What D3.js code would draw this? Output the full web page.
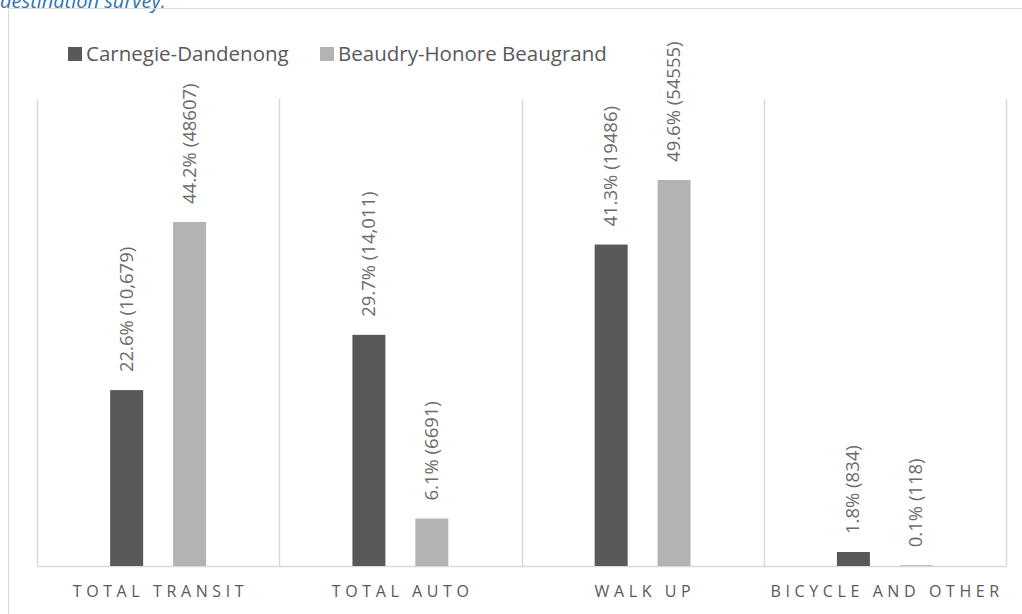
<!DOCTYPE html>
<html>
<head>
<meta charset="utf-8">
<script src="https://cdnjs.cloudflare.com/ajax/libs/d3/7.8.5/d3.min.js"></script>
<style>
body { margin:0; background:white; }
svg { display:block; font-family:"Open Sans", "Noto Sans", sans-serif; }
</style>
</head>
<body>
<svg id="chart"></svg>
<script>
//data
var categories = ["TOTAL TRANSIT","TOTAL AUTO","WALK UP","BICYCLE AND OTHER"];
var seriesNames = ["Carnegie-Dandenong","Beaudry-Honore Beaugrand"];
var carnegieValues = [22.6, 29.7, 41.3, 1.8];
var carnegieLabels = ["22.6% (10,679)","29.7% (14,011)","41.3% (19486)","1.8% (834)"];
var beaudryValues = [44.2, 6.1, 49.6, 0.1];
var beaudryLabels = ["44.2% (48607)","6.1% (6691)","49.6% (54555)","0.1% (118)"];
var colors = ["#595959","#b3b3b3"];

var initGraph = function(target)
{
    var screen = {width:1022, height:614};
    var margins = {top:99, bottom:48, left:37, right:16};
    var graph = {
        width:screen.width-margins.left-margins.right,
        height:screen.height-margins.top-margins.bottom
    };

    var svg = d3.select(target)
        .attr("width",screen.width)
        .attr("height",screen.height);

    //cut off title text and outer frame
    svg.append("text")
        .text("destination survey.")
        .attr("x",0)
        .attr("y",8)
        .attr("font-style","italic")
        .attr("font-size",20)
        .attr("fill","#2e75b6");

    svg.append("path")
        .attr("d","M8.5,614 L8.5,8.5 L1022,8.5")
        .attr("fill","none")
        .attr("stroke","#d9d9d9")
        .attr("stroke-width",1);

    var series = [
        {name:seriesNames[0], values:carnegieValues, labels:carnegieLabels, color:colors[0]},
        {name:seriesNames[1], values:beaudryValues, labels:beaudryLabels, color:colors[1]}
    ];

    var xScale = d3.scaleBand()
        .domain(categories)
        .range([0,graph.width]);

    var subScale = d3.scaleBand()
        .domain(seriesNames)
        .range([xScale.bandwidth()/2-64.5, xScale.bandwidth()/2+64.5])
        .paddingInner(0.95)
        .paddingOuter(0.5);

    var yScale = d3.scaleLinear()
        .domain([0,60])
        .range([graph.height,0]);

    var g = svg.append("g")
        .attr("transform","translate("+margins.left+","+margins.top+")");

    //vertical separators between categories
    g.selectAll("line.sep")
        .data(d3.range(categories.length+1))
        .enter()
        .append("line")
        .classed("sep",true)
        .attr("x1",function(i){ return Math.round(i*xScale.step())+0.5; })
        .attr("x2",function(i){ return Math.round(i*xScale.step())+0.5; })
        .attr("y1",0)
        .attr("y2",graph.height)
        .attr("stroke","#d9d9d9")
        .attr("stroke-width",1.5);

    //bottom axis
    var xAxis = d3.axisBottom(xScale).tickSize(0).tickPadding(20);
    var axis = g.append("g")
        .attr("transform","translate(0,"+graph.height+")")
        .call(xAxis);
    axis.select(".domain")
        .attr("stroke","#d9d9d9")
        .attr("stroke-width",1.5);
    axis.selectAll("text")
        .attr("font-family","'Open Sans', sans-serif")
        .attr("font-size",16)
        .attr("letter-spacing","4.6px")
        .attr("dx","2.3px")
        .attr("fill","#595959");

    //bars
    var groups = g.selectAll("g.series")
        .data(series)
        .enter()
        .append("g")
        .classed("series",true);

    var barWidth = 33;

    groups.selectAll("rect")
        .data(function(s){
            return s.values.map(function(v,i){
                return {cat:categories[i], value:v, name:s.name, color:s.color};
            });
        })
        .enter()
        .append("rect")
        .attr("x",function(d){ return xScale(d.cat)+subScale(d.name)+subScale.bandwidth()/2-barWidth/2; })
        .attr("y",function(d){ return yScale(d.value); })
        .attr("width",barWidth)
        .attr("height",function(d){ return graph.height-yScale(d.value); })
        .attr("fill",function(d){ return d.color; });

    //rotated value labels
    groups.selectAll("text")
        .data(function(s){
            return s.values.map(function(v,i){
                return {cat:categories[i], value:v, name:s.name, label:s.labels[i]};
            });
        })
        .enter()
        .append("text")
        .text(function(d){ return d.label; })
        .attr("transform",function(d){
            var cx = xScale(d.cat)+subScale(d.name)+subScale.bandwidth()/2+6;
            var cy = yScale(d.value)-18;
            return "translate("+cx+","+cy+") rotate(-90)";
        })
        .attr("font-size",18.5)
        .attr("fill","#6b6b6b");

    //legend
    var legend = svg.append("g");
    var legendX = [68,320];
    legendX.forEach(function(lx,i){
        legend.append("rect")
            .attr("x",lx)
            .attr("y",47)
            .attr("width",14)
            .attr("height",14)
            .attr("fill",colors[i]);
        legend.append("text")
            .text(seriesNames[i])
            .attr("x",lx+18)
            .attr("y",61)
            .attr("font-size",20.5)
            .attr("fill","#595959");
    });
}

initGraph("#chart");
</script>
</body>
</html>
